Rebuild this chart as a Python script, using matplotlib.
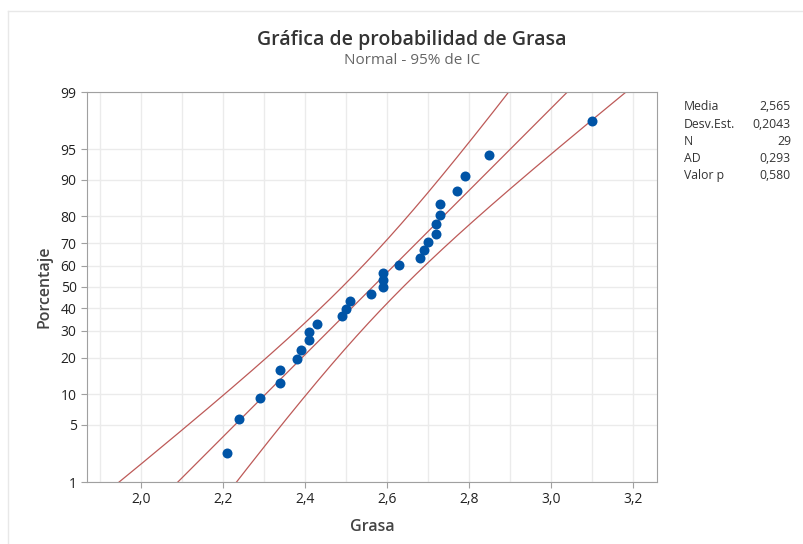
import numpy as np
import matplotlib.pyplot as plt
from matplotlib.lines import Line2D
from matplotlib.ticker import FuncFormatter, MultipleLocator
from statistics import NormalDist

# Valores de grasa (ordenados)
grasa = [2.21, 2.24, 2.29, 2.34, 2.34, 2.38, 2.39, 2.41, 2.41, 2.43,
         2.49, 2.50, 2.51, 2.56, 2.59, 2.59, 2.59, 2.63, 2.68, 2.69,
         2.70, 2.72, 2.72, 2.73, 2.73, 2.77, 2.79, 2.85, 3.10]

# Estadísticos del ajuste normal
media = 2.565
desv_est = 0.2043
n = 29
ad = 0.293
valor_p = 0.580

pct_ticks = [1, 5, 10, 20, 30, 40, 50, 60, 70, 80, 90, 95, 99]
x_ticks = [2.0, 2.2, 2.4, 2.6, 2.8, 3.0, 3.2]

nd = NormalDist()
z = lambda p: nd.inv_cdf(p)

plt.rcParams['font.family'] = ['Open Sans', 'DejaVu Sans']

fig = plt.figure(figsize=(8.04, 5.44), dpi=100)
ax = fig.add_axes([87 / 804, 1 - 482 / 544, 570 / 804, 390 / 544])

# posiciones de rango mediano
x = np.array(grasa)
i = np.arange(1, len(x) + 1)
y = np.array([z(p) for p in (i - 0.3) / (len(x) + 0.4)])

# recta ajustada e intervalo de confianza del 95%
pp = np.linspace(0.0005, 0.9995, 400)
zz = np.array([z(p) for p in pp])
xp = media + zz * desv_est
se = desv_est * np.sqrt((1 + zz ** 2 / 2) / n)
rojo = '#bd5a58'
ax.plot(xp, zz, color=rojo, lw=0.9)
ax.plot(xp - 1.96 * se, zz, color=rojo, lw=0.9)
ax.plot(xp + 1.96 * se, zz, color=rojo, lw=0.9)

ax.plot(x, y, 'o', color='#0054a6', ms=7.2, mec='none', zorder=3)

ax.set_xlim(1.868, 3.259)
ax.set_ylim(z(0.01), z(0.99))
ax.set_xticks(x_ticks)
ax.xaxis.set_minor_locator(MultipleLocator(0.1))
ax.xaxis.set_major_formatter(FuncFormatter(lambda v, _: f'{v:.1f}'.replace('.', ',')))
ax.set_yticks([z(p / 100) for p in pct_ticks])
ax.set_yticklabels([str(p) for p in pct_ticks])

ax.grid(True, which='both', axis='x', color='#ebebeb', lw=1)
ax.grid(True, which='major', axis='y', color='#ebebeb', lw=1)
ax.set_axisbelow(True)
for s in ax.spines.values():
    s.set_color('#a0a0a0')
ax.tick_params(which='major', direction='out', length=4, color='#a0a0a0',
               labelsize=10, labelcolor='#222222')
ax.tick_params(which='minor', length=0)

ax.set_xlabel('Grasa', fontsize=11.5, fontweight='semibold', color='#444444', labelpad=8)
ax.set_ylabel('Porcentaje', fontsize=11.5, fontweight='semibold', color='#444444', labelpad=6)

fig.text(412 / 804, 1 - 40 / 544, 'Gráfica de probabilidad de Grasa', ha='center', va='center',
         fontsize=14, fontweight='semibold', color='#333333')
fig.text(412 / 804, 1 - 61 / 544, 'Normal - 95% de IC', ha='center', va='center',
         fontsize=11, color='#666666')

# tabla de estadísticos
filas = [('Media', f'{media:.3f}'), ('Desv.Est.', f'{desv_est:.4f}'), ('N', str(n)),
         ('AD', f'{ad:.3f}'), ('Valor p', f'{valor_p:.3f}')]
for k, (nombre, val) in enumerate(filas):
    yy = 1 - (107 + k * 17.2) / 544
    fig.text(684 / 804, yy, nombre, ha='left', va='center', fontsize=8.8, color='#333333')
    fig.text(791 / 804, yy, val.replace('.', ','), ha='right', va='center', fontsize=8.8, color='#333333')

# marco tenue del gráfico
fig.add_artist(Line2D([8 / 804, 8 / 804], [0, 1 - 11 / 544], color='#e8e8e8', lw=1))
fig.add_artist(Line2D([8 / 804, 1], [1 - 11 / 544, 1 - 11 / 544], color='#e8e8e8', lw=1))

fig.savefig('out.png', dpi=100, facecolor='white')
